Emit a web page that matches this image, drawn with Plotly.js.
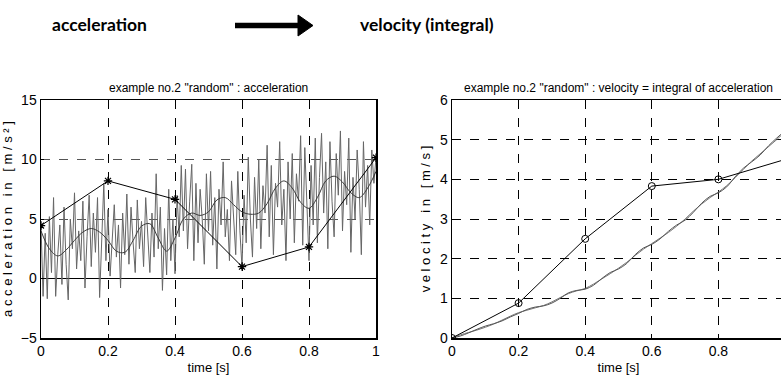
<!DOCTYPE html>
<html><head><meta charset="utf-8">
<script src="https://cdn.plot.ly/plotly-3.0.1.min.js"></script>
<style>html,body{margin:0;padding:0;overflow:hidden;background:#fff}#c{width:790px;height:376px}</style>
</head><body><div id="c"></div>
<script>
// ---- data ----
const noiseAcc = [
 4.5,-1.5,3.8,-1.7,5.2,0.5,6.8,-1.5,2.0,4.5,
 -0.5,6.0,1.2,-1.8,5.0,2.5,7.2,0.8,4.0,1.5,
 6.5,-0.8,3.5,7.0,1.0,5.5,2.2,6.8,-1.6,4.2,
 8.0,1.5,5.8,0.2,3.0,6.2,1.8,4.5,-0.8,5.5,
 2.0,7.1,1.2,6.0,3.0,0.5,6.6,2.5,4.8,1.0,
 6.8,3.5,0.5,5.5,1.8,8.8,2.5,6.0,-1.0,4.2,
 0.3,7.5,1.5,5.0,0.4,7.0,3.5,9.5,4.0,9.2,
 2.5,6.5,9.6,1.5,8.0,3.0,7.5,5.0,1.2,8.8,
 4.0,9.0,2.8,6.8,0.8,7.5,4.5,9.8,3.5,5.8,
 1.5,8.2,5.5,2.0,9.0,4.0,0.9,7.0,3.0,10.2,
 5.0,1.8,8.5,4.2,10.0,2.5,7.8,5.5,11.2,3.5,
 9.5,2.0,8.0,6.0,11.5,4.5,7.5,1.5,9.8,5.0,
 10.5,3.0,8.8,6.5,12.0,2.8,11.0,5.2,1.5,9.5,
 4.5,11.8,3.0,8.5,12.2,5.5,9.8,2.5,11.5,6.5,
 3.5,10.5,7.0,12.4,4.0,9.0,6.2,11.8,2.2,8.5,
 5.0,10.8,7.5,2.0,11.5,6.0,9.5,4.5,10.8,8.0,10.2
];
const noiseTime = noiseAcc.map((_, i) => i / (noiseAcc.length - 1));

const smoothTime = [0,0.025,0.05,0.075,0.1,0.125,0.15,0.175,0.2,0.225,0.25,0.275,0.3,0.325,0.35,0.375,0.4,0.425,0.45,0.475,0.5,0.525,0.55,0.575,0.6,0.625,0.65,0.675,0.7,0.725,0.75,0.775,0.8,0.825,0.85,0.875,0.9,0.925,0.95,0.975,1.0];
const smoothAcc = [4.0,2.5,1.9,2.4,3.2,3.9,4.2,3.9,3.2,2.3,2.2,3.2,4.4,4.6,3.4,2.3,3.4,5.0,5.5,5.3,5.6,6.6,6.8,6.2,5.6,5.4,5.5,6.3,7.6,8.2,7.6,6.4,5.9,6.8,8.2,8.6,8.1,7.2,6.8,7.6,9.0];

const coarseTime = [0,0.2,0.4,0.6,0.8,1.0];
const coarseAcc = [4.45,8.2,6.65,1.0,2.65,10.15];
const coarseVel = [0,0.88,2.5,3.83,4.0,4.5];

const velA = [0,0.08,0.14,0.2,0.27,0.35,0.45,0.55,0.64,0.70,0.76,0.82,0.91,1.02,1.12,1.19,1.25,1.36,1.49,1.62,1.76,1.91,2.08,2.24,2.38,2.52,2.66,2.82,3.0,3.2,3.38,3.54,3.68,3.84,4.04,4.25,4.46,4.64,4.82,5.0,5.2];
const velB = [0,0.05,0.13,0.22,0.3,0.36,0.43,0.53,0.62,0.72,0.78,0.81,0.88,1.0,1.14,1.2,1.23,1.33,1.5,1.65,1.74,1.88,2.1,2.27,2.36,2.5,2.69,2.85,2.97,3.17,3.4,3.57,3.66,3.81,4.06,4.28,4.44,4.61,4.84,5.04,5.22];

const xTicks = [0,0.2,0.4,0.6,0.8,1];
const xTickText = ['0','0.2','0.4','0.6','0.8','1'];
const xTickTextRight = ['0','0.2','0.4','0.6','0.8',''];
const accTicks = [-5,0,5,10,15];
const velTicks = [0,1,2,3,4,5,6];

// ---- layout ----
const W = 790, H = 376;
const px = v => v / W, py = v => 1 - v / H;
const narrow = 'Liberation Sans Narrow, Arial Narrow, sans-serif';

const traces = [
  {x: noiseTime, y: noiseAcc, xaxis:'x', yaxis:'y', mode:'lines', line:{color:'#666', width:1}},
  {x: smoothTime, y: smoothAcc, xaxis:'x', yaxis:'y', mode:'lines', line:{color:'#3a3a3a', width:1, shape:'spline'}},
  {x: coarseTime, y: coarseAcc, xaxis:'x', yaxis:'y', mode:'lines+markers', line:{color:'#000', width:1},
   marker:{symbol:'asterisk-open', size:7, color:'#000', line:{width:1.2, color:'#000'}}},
  {x: smoothTime, y: velA, xaxis:'x2', yaxis:'y2', mode:'lines', line:{color:'#777', width:1, shape:'spline'}},
  {x: smoothTime, y: velB, xaxis:'x2', yaxis:'y2', mode:'lines', line:{color:'#555', width:1, shape:'spline'}},
  {x: coarseTime, y: coarseVel, xaxis:'x2', yaxis:'y2', mode:'lines+markers', line:{color:'#000', width:1},
   marker:{symbol:'circle-open', size:7, color:'#000', line:{width:1, color:'#000'}}}
];

const axBase = {
  showline:true, mirror:true, linecolor:'#000', linewidth:1.5,
  ticks:'inside', ticklen:3, tickcolor:'#000',
  showgrid:true, griddash:'dash', gridwidth:1,
  zeroline:false, fixedrange:true,
  tickfont:{family:narrow, size:14, color:'#000'}
};

const layout = {
  width: W, height: H, margin:{l:0,r:0,t:0,b:0},
  paper_bgcolor:'#fff', plot_bgcolor:'#fff', showlegend:false,
  xaxis: Object.assign({}, axBase, {domain:[px(41), px(376)], range:[0,1], tickvals:xTicks, ticktext:xTickText, gridcolor:'#000', anchor:'y',
    title:{text:'time [s]', font:{family:narrow, size:13, color:'#000'}, standoff:4}}),
  yaxis: Object.assign({}, axBase, {domain:[1-338/H, 1-100/H], range:[-5,15], tickvals:accTicks, gridcolor:'#555', anchor:'x',
    zeroline:true, zerolinecolor:'#000', zerolinewidth:1,
    title:{text:'a c c e l e r a t i o n   i n   [ m / s ² ]', font:{family:narrow, size:13, color:'#000'}, standoff:6}}),
  xaxis2: Object.assign({}, axBase, {domain:[px(452), px(785)], range:[0,1], tickvals:xTicks, ticktext:xTickTextRight, gridcolor:'#000', anchor:'y2',
    title:{text:'time [s]', font:{family:narrow, size:13, color:'#000'}, standoff:4}}),
  yaxis2: Object.assign({}, axBase, {domain:[1-338/H, 1-100/H], range:[0,6], tickvals:velTicks, gridcolor:'#000', anchor:'x2',
    title:{text:'v e l o c i t y   i n   [ m / s ]', font:{family:narrow, size:13, color:'#000'}, standoff:6}}),
  annotations: [
    {xref:'paper', yref:'paper', x:px(208.5), y:py(88), text:'example no.2 "random" : acceleration', showarrow:false,
     font:{family:narrow, size:12, color:'#000'}, xanchor:'center', yanchor:'middle'},
    {xref:'paper', yref:'paper', x:px(618), y:py(88), text:'example no.2 "random" : velocity = integral of acceleration', showarrow:false,
     font:{family:narrow, size:12, color:'#000'}, xanchor:'center', yanchor:'middle'},
    {xref:'paper', yref:'paper', x:px(99), y:py(25), text:'acceleration', showarrow:false,
     font:{family:'Lato, sans-serif', size:17.5, color:'#000', weight:700}, xanchor:'center', yanchor:'middle'},
    {xref:'paper', yref:'paper', x:px(427), y:py(25), text:'velocity (integral)', showarrow:false,
     font:{family:'Lato, sans-serif', size:17.5, color:'#000', weight:700}, xanchor:'center', yanchor:'middle'}
  ],
  shapes: [
    {type:'line', xref:'paper', yref:'paper', x0:px(235), x1:px(300), y0:py(25.5), y1:py(25.5), line:{color:'#000', width:5.5}},
    {type:'path', xref:'paper', yref:'paper', path:'M '+px(298)+' '+py(15)+' L '+px(313)+' '+py(25.5)+' L '+px(298)+' '+py(36)+' Z',
     fillcolor:'#000', line:{color:'#000', width:1}}
  ]
};

Plotly.newPlot('c', traces, layout, {staticPlot:true, displayModeBar:false});
</script></body></html>
